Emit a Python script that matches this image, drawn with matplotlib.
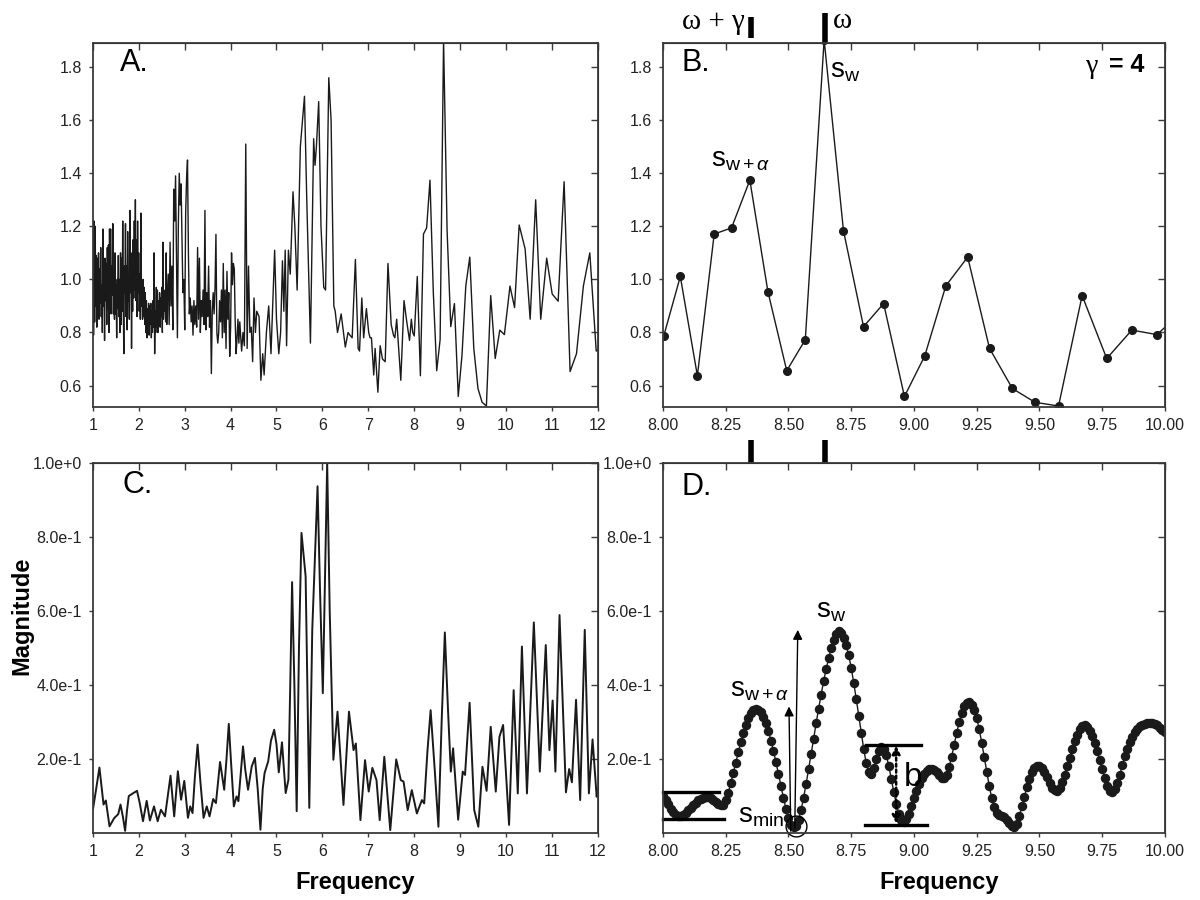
import numpy as np
import matplotlib
matplotlib.use('Agg')
import matplotlib.pyplot as plt

plt.rcParams['font.family'] = ['Liberation Sans Narrow', 'Liberation Sans', 'DejaVu Sans']
plt.rcParams['mathtext.fontset'] = 'custom'
plt.rcParams['mathtext.rm'] = 'Liberation Sans'
plt.rcParams['mathtext.it'] = 'Liberation Sans:italic'
plt.rcParams['mathtext.sf'] = 'Liberation Sans'

# ---- panel A: raw periodogram, dense part on a regular grid ----
a_dense_mag = [
    1.07, 0.79, 1.22, 0.84, 1.20, 0.90, 1.09, 0.82, 1.08, 0.87, 1.10, 0.85, 1.04, 0.91, 1.12, 0.86, 0.98,
    0.80, 1.19, 0.90, 1.05, 0.77, 1.08, 0.92, 1.06, 0.83, 1.12, 0.89, 1.13, 0.80, 1.19, 0.95, 1.19, 0.87,
    1.05, 0.94, 1.21, 0.87, 1.04, 0.85, 1.10, 0.87, 0.98, 0.78, 1.00, 0.89, 1.09, 0.86, 1.00, 0.80, 1.10,
    0.83, 1.08, 0.88, 1.22, 0.90, 0.72, 1.05, 0.95, 1.21, 0.86, 1.05, 0.81, 1.18, 0.92, 1.00, 0.85, 1.26,
    0.95, 1.10, 0.74, 1.05, 0.88, 1.15, 0.93, 1.22, 0.96, 1.30, 0.92, 1.15, 0.86, 1.22, 0.95, 1.10, 0.88,
    1.02, 0.85, 1.25, 0.90, 0.93, 0.85, 1.00, 0.86, 0.97, 0.83, 0.95, 0.80, 0.92, 0.78, 0.89, 0.80, 0.91,
    0.79, 0.90, 0.83, 0.91, 0.78, 0.88, 0.80, 0.92, 0.82, 1.10, 0.72, 0.88, 0.80, 0.97, 0.82, 0.96, 0.80,
    0.92, 0.84, 0.95, 0.82, 0.93, 0.86, 0.97, 0.80, 1.14, 0.85, 0.93, 0.88, 0.96, 0.84, 1.10, 0.83, 0.92,
]
a_dense_freq = np.linspace(1.0, 2.62, len(a_dense_mag))

a_freq = [
    2.64, 2.66, 2.68, 2.70, 2.72, 2.74, 2.76, 2.78, 2.80, 2.82, 2.84, 2.86, 2.88, 2.90, 2.92, 2.94,
    2.96, 2.98, 3.00, 3.02, 3.04, 3.06, 3.08, 3.10, 3.12, 3.14, 3.16, 3.18, 3.20, 3.22, 3.24, 3.26,
    3.28, 3.30, 3.32, 3.34, 3.36, 3.38, 3.40, 3.42, 3.44, 3.46, 3.48, 3.50, 3.52, 3.54, 3.56, 3.58,
    3.60, 3.62, 3.64, 3.66, 3.68, 3.70, 3.72, 3.74, 3.76, 3.78, 3.80, 3.82, 3.84, 3.86, 3.88, 3.90,
    3.92, 3.94, 3.96, 3.98, 4.00, 4.02, 4.04, 4.06, 4.08, 4.10, 4.12, 4.14, 4.16, 4.18, 4.20, 4.24,
    4.27, 4.30, 4.33, 4.36, 4.39, 4.42, 4.45, 4.48, 4.51, 4.54, 4.57, 4.62, 4.66, 4.70, 4.73, 4.78,
    4.83, 4.88, 4.96, 5.00, 5.05, 5.09, 5.13, 5.16, 5.19, 5.22, 5.26, 5.30, 5.36, 5.40, 5.45, 5.52,
    5.61, 5.66, 5.74, 5.81, 5.84, 5.87, 5.92, 5.97, 6.03, 6.07, 6.14, 6.19, 6.25, 6.28, 6.33, 6.41,
    6.50, 6.56, 6.60, 6.65, 6.72, 6.78, 6.81, 6.86, 6.90, 6.96, 7.01, 7.04, 7.07, 7.12, 7.15, 7.21,
    7.26, 7.31, 7.37, 7.43, 7.50, 7.55, 7.58, 7.62, 7.71, 7.78, 7.84, 7.90, 7.94, 7.97,
]
a_mag = [
    1.02, 0.83, 1.14, 0.90, 1.05, 0.81, 1.34, 1.22, 1.39, 1.10, 0.78, 1.20, 1.40, 1.28, 1.36, 1.15,
    0.95, 1.00, 0.81, 1.25, 1.38, 1.45, 1.10, 0.87, 0.93, 0.84, 0.90, 0.79, 0.92, 0.83, 0.90, 0.82,
    1.12, 0.85, 1.08, 0.80, 0.92, 0.86, 0.96, 0.83, 1.26, 0.81, 0.95, 0.86, 1.05, 0.82, 0.92, 0.645,
    0.88, 0.95, 0.87, 0.97, 1.17, 0.80, 0.76, 0.80, 0.92, 0.84, 0.96, 0.78, 1.06, 0.80, 0.96, 0.74,
    1.03, 0.85, 0.95, 0.71, 0.82, 1.10, 0.98, 1.06, 1.04, 0.84, 0.72, 0.78, 0.85, 0.76, 0.84, 0.73,
    0.80, 0.75, 1.51, 0.74, 1.05, 0.80, 0.82, 0.69, 0.93, 0.80, 0.88, 0.86, 0.62, 0.72, 0.64, 0.80,
    0.90, 0.72, 1.11, 0.85, 0.72, 0.80, 1.07, 0.88, 1.11, 0.75, 1.11, 1.02, 1.33, 1.20, 0.96, 1.50,
    1.69, 1.30, 0.76, 1.53, 1.43, 1.50, 1.67, 1.20, 0.97, 0.96, 1.76, 1.60, 0.90, 0.88, 0.80, 0.87,
    0.745, 0.80, 0.79, 0.78, 1.075, 0.74, 0.73, 0.93, 0.78, 0.89, 0.80, 0.78, 0.78, 0.64, 0.74, 0.575,
    0.75, 0.70, 0.69, 1.06, 0.83, 0.79, 0.78, 0.85, 0.62, 0.92, 0.84, 0.77, 0.85, 0.80,
]

# ---- panel B (and tail of A): periodogram points 8..12 ----
b_freq = [8.003, 8.069, 8.137, 8.204, 8.273, 8.346, 8.418, 8.493, 8.567, 8.642, 8.719, 8.799,
          8.879, 8.962, 9.043, 9.127, 9.214, 9.301, 9.392, 9.482, 9.576, 9.670, 9.768, 9.868,
          9.968, 10.07]
b_mag = [0.787, 1.011, 0.637, 1.171, 1.194, 1.374, 0.954, 0.656, 0.773, 1.903, 1.184, 0.822,
         0.909, 0.559, 0.712, 0.976, 1.084, 0.740, 0.589, 0.537, 0.523, 0.939, 0.702, 0.809,
         0.792, 0.880]
a_tail_freq = [10.09, 10.19, 10.29, 10.42, 10.53, 10.65, 10.76, 10.89, 11.01, 11.14, 11.27,
               11.40, 11.54, 11.69, 11.83, 11.97, 12.05]
a_tail_mag = [0.975, 0.894, 1.205, 1.115, 0.85, 1.30, 0.85, 1.08, 0.945, 0.918, 1.368,
              0.653, 0.72, 0.975, 1.10, 0.73, 0.74]

# ---- panel C: smoothed spectrum ----
c_freq = [1.00, 1.07, 1.14, 1.19, 1.23, 1.28, 1.36, 1.46, 1.55, 1.60, 1.65, 1.70, 1.74, 1.78, 1.88,
          1.96, 2.02, 2.09, 2.17, 2.24, 2.33, 2.41, 2.48, 2.57, 2.63, 2.69, 2.77, 2.85, 2.92, 2.99,
          3.07, 3.12, 3.17, 3.22, 3.28, 3.34, 3.41, 3.48, 3.54, 3.62, 3.68, 3.77, 3.86, 3.91, 3.96,
          4.01, 4.07, 4.13, 4.17, 4.22, 4.27, 4.32, 4.38, 4.46, 4.53, 4.59, 4.65, 4.70, 4.74, 4.82,
          4.88, 4.95, 5.00, 5.05, 5.12, 5.20, 5.26, 5.30, 5.34, 5.39, 5.44, 5.49, 5.545, 5.635, 5.68,
          5.715, 5.78, 5.895, 5.95, 6.01, 6.06, 6.105, 6.16, 6.24, 6.33, 6.46, 6.58, 6.68, 6.73, 6.83,
          6.93, 7.01, 7.09, 7.18, 7.25, 7.35, 7.48, 7.61, 7.71, 7.77, 7.86, 7.95, 8.06, 8.17, 8.22,
          8.29, 8.36, 8.45, 8.53, 8.60, 8.67, 8.74, 8.80, 8.85, 8.96, 9.06, 9.11, 9.21, 9.31, 9.40,
          9.49, 9.58, 9.67, 9.78, 9.86, 9.94, 10.07, 10.17, 10.26, 10.35, 10.46, 10.61, 10.74, 10.87,
          10.95, 11.02, 11.08, 11.17, 11.31, 11.38, 11.44, 11.53, 11.62, 11.72, 11.81, 11.89, 11.98, 12.0]
c_mag = [0.065, 0.12, 0.177, 0.12, 0.077, 0.088, 0.018, 0.040, 0.051, 0.077, 0.045, 0.006, 0.06, 0.100, 0.108,
         0.114, 0.08, 0.032, 0.087, 0.034, 0.072, 0.032, 0.063, 0.045, 0.10, 0.155, 0.045, 0.167, 0.090, 0.141,
         0.041, 0.072, 0.054, 0.15, 0.239, 0.14, 0.041, 0.072, 0.045, 0.092, 0.081, 0.192, 0.117, 0.20, 0.295,
         0.19, 0.072, 0.099, 0.086, 0.16, 0.234, 0.17, 0.117, 0.18, 0.203, 0.12, 0.009, 0.12, 0.162, 0.194,
         0.25, 0.279, 0.24, 0.164, 0.245, 0.108, 0.144, 0.40, 0.678, 0.40, 0.059, 0.50, 0.811, 0.694, 0.35,
         0.068, 0.55, 0.937, 0.65, 0.378, 0.70, 1.0, 0.60, 0.198, 0.328, 0.076, 0.328, 0.224, 0.242, 0.035,
         0.197, 0.112, 0.176, 0.143, 0.035, 0.206, 0.008, 0.199, 0.143, 0.139, 0.062, 0.116, 0.053, 0.089, 0.080,
         0.22, 0.332, 0.17, 0.017, 0.30, 0.542, 0.33, 0.166, 0.229, 0.036, 0.166, 0.157, 0.352, 0.062, 0.017,
         0.179, 0.114, 0.287, 0.112, 0.26, 0.292, 0.022, 0.386, 0.107, 0.504, 0.107, 0.569, 0.166, 0.508,
         0.224, 0.358, 0.166, 0.589, 0.11, 0.173, 0.137, 0.36, 0.089, 0.549, 0.107, 0.253, 0.098, 0.12]

# ---- panel D: smoothed spectrum sampled every 0.01 between 8 and 10 ----
d_mag = [
    0.101, 0.090, 0.078, 0.066, 0.057, 0.050, 0.047, 0.047, 0.050, 0.055,
    0.061, 0.068, 0.075, 0.082, 0.088, 0.092, 0.095, 0.097, 0.097, 0.095,
    0.090, 0.084, 0.078, 0.075, 0.076, 0.088, 0.108, 0.135, 0.162, 0.190,
    0.218, 0.245, 0.270, 0.292, 0.310, 0.324, 0.332, 0.335, 0.333, 0.326,
    0.313, 0.296, 0.275, 0.250, 0.222, 0.192, 0.160, 0.127, 0.095, 0.066,
    0.041, 0.023, 0.015, 0.018, 0.035, 0.062, 0.095, 0.132, 0.172, 0.213,
    0.255, 0.296, 0.336, 0.374, 0.410, 0.443, 0.472, 0.500, 0.522, 0.538,
    0.545, 0.540, 0.528, 0.508, 0.480, 0.446, 0.406, 0.362, 0.316, 0.270,
    0.226, 0.188, 0.164, 0.160, 0.175, 0.200, 0.222, 0.232, 0.228, 0.210,
    0.180, 0.145, 0.110, 0.078, 0.052, 0.036, 0.031, 0.037, 0.052, 0.072,
    0.094, 0.114, 0.132, 0.148, 0.160, 0.168, 0.172, 0.173, 0.171, 0.165,
    0.157, 0.150, 0.149, 0.158, 0.178, 0.206, 0.238, 0.270, 0.300, 0.325,
    0.343, 0.352, 0.353, 0.347, 0.333, 0.310, 0.280, 0.244, 0.205, 0.165,
    0.127, 0.094, 0.070, 0.055, 0.048, 0.045, 0.042, 0.036, 0.027, 0.018,
    0.015, 0.025, 0.046, 0.072, 0.098, 0.124, 0.147, 0.165, 0.177, 0.182,
    0.181, 0.175, 0.165, 0.151, 0.136, 0.123, 0.115, 0.114, 0.122, 0.138,
    0.158, 0.180, 0.203, 0.226, 0.248, 0.266, 0.280, 0.289, 0.291, 0.287,
    0.277, 0.262, 0.243, 0.221, 0.197, 0.172, 0.148, 0.127, 0.113, 0.110,
    0.118, 0.135, 0.158, 0.183, 0.207, 0.228, 0.246, 0.260, 0.272, 0.281,
    0.288, 0.292, 0.295, 0.297, 0.298, 0.297, 0.295, 0.291, 0.285, 0.278,
    0.272,
]
d_freq = np.linspace(8.0, 10.0, len(d_mag))

omega_gamma = 8.35
omega = 8.645

wide_ticks = list(range(1, 13))
zoom_ticks = [8.0, 8.25, 8.5, 8.75, 9.0, 9.25, 9.5, 9.75, 10.0]
raw_ticks = [0.6, 0.8, 1.0, 1.2, 1.4, 1.6, 1.8]
mag_ticks = [0.2, 0.4, 0.6, 0.8, 1.0]
mag_labels = ['2.0e-1', '4.0e-1', '6.0e-1', '8.0e-1', '1.0e+0']

INK = '#1a1a1a'
SPINE = '#3a3a3a'


def style(ax, xt, xl, yt, yl):
    ax.set_xticks(xt)
    ax.set_xticklabels(xl)
    ax.set_yticks(yt)
    ax.set_yticklabels(yl)
    ax.tick_params(direction='out', length=3, width=1, labelsize=11.5,
                   colors=SPINE, labelcolor='#222222', pad=5)
    for s in ax.spines.values():
        s.set_color(SPINE)
        s.set_linewidth(1.3)
    top = ax.secondary_xaxis('top')
    top.set_xticks(xt)
    top.tick_params(direction='in', length=5, width=1, colors=SPINE,
                    labeltop=False, labelbottom=False)
    right = ax.secondary_yaxis('right')
    right.set_yticks(yt)
    right.tick_params(direction='in', length=5, width=1, colors=SPINE,
                      labelright=False, labelleft=False)


fig = plt.figure(figsize=(12, 9), dpi=100)
axA = fig.add_axes([0.0775, 0.548, 0.4205, 0.404])
axB = fig.add_axes([0.5525, 0.548, 0.4183, 0.404])
axC = fig.add_axes([0.0775, 0.0744, 0.4205, 0.4112])
axD = fig.add_axes([0.5525, 0.0744, 0.4183, 0.4112])

# A
a_all_f = list(a_dense_freq) + a_freq + b_freq[:-1] + a_tail_freq
a_all_m = list(a_dense_mag) + a_mag + b_mag[:-1] + a_tail_mag
axA.plot(a_all_f, a_all_m, color=INK, lw=1.0)
axA.set_xlim(1, 12)
axA.set_ylim(0.52, 1.89)
style(axA, wide_ticks, [str(t) for t in wide_ticks], raw_ticks, [f'{t:.1f}' for t in raw_ticks])
axA.text(0.054, 0.945, 'A.', transform=axA.transAxes, fontsize=22,
         family='Liberation Sans', va='center', ha='left')

# B
axB.plot(b_freq, b_mag, color=INK, lw=1.0, marker='o', ms=5.5)
axB.set_xlim(8, 10)
axB.set_ylim(0.52, 1.89)
style(axB, zoom_ticks, [f'{t:.2f}' for t in zoom_ticks], raw_ticks, [f'{t:.1f}' for t in raw_ticks])
axB.text(0.036, 0.945, 'B.', transform=axB.transAxes, fontsize=22,
         family='Liberation Sans', va='center', ha='left')
axB.text(0.958, 0.94, '= 4', transform=axB.transAxes, fontsize=18, weight='bold',
         family='Liberation Sans', va='center', ha='right')
axB.text(0.868, 0.935, 'γ', transform=axB.transAxes, fontsize=20,
         family='Liberation Serif', va='center', ha='right')
axB.text(8.665, 1.785, r'$\mathrm{s}_{\mathrm{w}}$', fontsize=20, va='center', ha='left')
axB.text(8.19, 1.45, r'$\mathrm{s}_{\mathrm{w+}\alpha}$', fontsize=20, va='center', ha='left')
# frequency markers above B
axB.plot([omega_gamma, omega_gamma], [1.014, 1.072], color='black', lw=4.0,
         transform=axB.get_xaxis_transform(), clip_on=False, solid_capstyle='butt')
axB.plot([omega, omega], [1.0, 1.083], color='black', lw=4.0,
         transform=axB.get_xaxis_transform(), clip_on=False, solid_capstyle='butt')
axB.text(8.325, 1.058, 'ω + γ', transform=axB.get_xaxis_transform(), fontsize=21,
         family='Liberation Serif', va='center', ha='right')
axB.text(8.675, 1.062, 'ω', transform=axB.get_xaxis_transform(), fontsize=21,
         family='Liberation Serif', va='center', ha='left')

# C
axC.plot(c_freq, c_mag, color=INK, lw=1.4)
axC.set_xlim(1, 12)
axC.set_ylim(0, 1.0)
style(axC, wide_ticks, [str(t) for t in wide_ticks], mag_ticks, mag_labels)
axC.text(0.058, 0.94, 'C.', transform=axC.transAxes, fontsize=22,
         family='Liberation Sans', va='center', ha='left')

# D
axD.plot(d_freq, d_mag, color=INK, lw=1.0, marker='o', ms=5.8)
axD.set_xlim(8, 10)
axD.set_ylim(0, 1.0)
style(axD, zoom_ticks, [f'{t:.2f}' for t in zoom_ticks], mag_ticks, mag_labels)
axD.text(0.036, 0.935, 'D.', transform=axD.transAxes, fontsize=22,
         family='Liberation Sans', va='center', ha='left')
for xm in (omega_gamma, omega):
    axD.plot([xm, xm], [1.0, 1.062], color='black', lw=4.0,
             transform=axD.get_xaxis_transform(), clip_on=False, solid_capstyle='butt')
# level bars
axD.plot([8.0, 8.222], [0.11, 0.11], color='black', lw=2.4, clip_on=False)
axD.plot([8.0, 8.245], [0.038, 0.038], color='black', lw=2.4, clip_on=False)
axD.plot([8.808, 9.028], [0.239, 0.239], color='black', lw=2.4)
axD.plot([8.803, 9.051], [0.0225, 0.0225], color='black', lw=2.4)
axD.annotate('', xy=(8.929, 0.236), xytext=(8.929, 0.026),
             arrowprops=dict(arrowstyle='<|-|>', color='black', lw=1.8, ls=(0, (1.2, 1.2)),
                             mutation_scale=12, shrinkA=0, shrinkB=0))
axD.annotate('', xy=(8.502, 0.342), xytext=(8.509, 0.005),
             arrowprops=dict(arrowstyle='-|>', color='black', lw=1.0,
                             mutation_scale=14, shrinkA=0, shrinkB=0))
axD.annotate('', xy=(8.537, 0.549), xytext=(8.525, 0.013),
             arrowprops=dict(arrowstyle='-|>', color='black', lw=1.0,
                             mutation_scale=14, shrinkA=0, shrinkB=0))
axD.plot([8.528], [0.02], marker='o', ms=15, mfc='none', mec='black', mew=1.0, clip_on=False)
axD.text(8.958, 0.15, 'b', fontsize=24, family='Liberation Sans', va='center', ha='left')
axD.text(8.61, 0.60, r'$\mathrm{s}_{\mathrm{w}}$', fontsize=20, va='center', ha='left')
axD.text(8.267, 0.386, r'$\mathrm{s}_{\mathrm{w+}\alpha}$', fontsize=20, va='center', ha='left')
axD.text(8.30, 0.045, r'$\mathrm{s}_{\mathrm{min}}$', fontsize=20, va='center', ha='left')

fig.text(0.296, 0.019, 'Frequency', fontsize=17, weight='bold', family='Liberation Sans',
         ha='center', va='center')
fig.text(0.783, 0.019, 'Frequency', fontsize=17, weight='bold', family='Liberation Sans',
         ha='center', va='center')
fig.text(0.018, 0.316, 'Magnitude', fontsize=17, weight='bold', family='Liberation Sans',
         rotation=90, ha='center', va='center')

fig.savefig('out.png', dpi=100)
